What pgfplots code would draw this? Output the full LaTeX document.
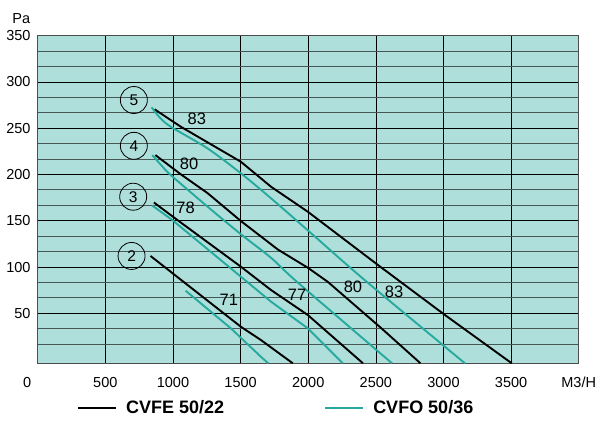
\documentclass[border=0pt]{standalone}
\usepackage{fontspec}
\setmainfont{Liberation Sans}
\usepackage{pgfplots}
\pgfplotsset{compat=1.18}
\definecolor{bgteal}{RGB}{174,223,218}
\definecolor{cteal}{RGB}{38,170,160}
\definecolor{gridminor}{RGB}{70,88,86}
\begin{document}
\fontsize{14}{16}\selectfont
\begin{tikzpicture}
\useasboundingbox (-37.7pt,-61.7pt) rectangle (559.3pt,363.3pt);
\begin{axis}[
  at={(0pt,0pt)}, anchor=south west,
  scale only axis, width=541pt, height=327.6pt,
  xmin=0, xmax=4000, ymin=-4, ymax=350,
  clip=false,
  axis background/.style={fill=bgteal},
  axis line style={draw=gray!60!black, line width=0.8pt},
  xtick={500,1000,...,4000},
  xticklabels={500,1000,1500,2000,2500,3000,3500,M3/H},
  extra x ticks={0}, extra x tick labels={0},
  extra x tick style={grid=none, xticklabel style={xshift=-10.5pt}},
  ytick={50,100,...,350},
  minor ytick={16.667,33.333,66.667,83.333,116.667,133.333,166.667,183.333,216.667,233.333,266.667,283.333,316.667,333.333},
  grid=both,
  major grid style={draw=black, line width=0.6pt},
  minor grid style={draw=gridminor, line width=1pt},
  tick style={draw=none},
  /pgf/number format/assume math mode=true,
  scaled ticks=false,
  xticklabel style={anchor=north, inner sep=0pt, yshift=-13.5pt, font=\fontsize{14.5}{16}\selectfont},
  yticklabel style={anchor=east, inner sep=0pt, xshift=-7pt, font=\fontsize{14.5}{16}\selectfont,
    /pgf/number format/.cd, 1000 sep={}},
  legend columns=2,
  legend cell align=left,
  legend image code/.code={\draw[#1, line width=2pt] (0pt,0pt) -- (38pt,0pt);},
  legend style={at={(0,0)}, anchor=west, xshift=39.3pt, yshift=-45pt,
    draw=none, fill=none, inner sep=0pt,
    font=\bfseries\fontsize{18}{21}\selectfont,
    nodes={inner sep=0pt},
    /tikz/every odd column/.append style={column sep=9pt},
    /tikz/every even column/.append style={column sep=100pt}},
]
% CVFE 50/22 (black)
\addplot[black, line width=1.9pt] coordinates {(864,270.5) (1057,251.7) (1502,213.8) (1725,186.8) (1997,159.8) (2516,102.2) (3010,48.3) (3505,-4)};
\addlegendentry{CVFE 50/22}
% CVFO 50/36 (teal)
\addplot[cteal, line width=1.9pt, smooth, tension=0.5] coordinates {(842,272.6) (900,262) (983,251.7) (1255,228.3) (1502,201.3) (1725,174.3) (2022,136.5) (2417,86) (3159,-4)};
\addlegendentry{CVFO 50/36}
\addplot[black, line width=1.9pt, forget plot] coordinates {(870,221) (1060,200) (1255,180) (1500,150) (1775,119) (2000,99) (2145,84) (2540,34) (2830,-4)};
\addplot[cteal, line width=1.9pt, smooth, tension=0.5, forget plot] coordinates {(847,221) (920,209) (983,199.5) (1250,166) (1502,135.5) (1725,110) (1925,83) (2620,-4)};
\addplot[black, line width=1.9pt, forget plot] coordinates {(859,169.8) (1033,150.8) (1502,100.4) (1725,75.2) (1997,48.2) (2405,-4)};
\addplot[cteal, line width=1.9pt, forget plot] coordinates {(847,166.5) (995,150.8) (1502,89.6) (1725,62.6) (1997,33.8) (2256,-4)};
\addplot[black, line width=1.9pt, forget plot] coordinates {(834,112) (1502,35.5) (1650,21.2) (1886,-4)};
\addplot[cteal, line width=1.9pt, forget plot] coordinates {(1094,74.4) (1428,33.8) (1650,3.1) (1705,-4)};
% curve labels
\begin{scope}[every node/.style={font=\fontsize{16.5}{18}\selectfont, inner sep=0pt}]
\node at (axis cs:1176,259.7) {83};
\node at (axis cs:1119,212) {80};
\node at (axis cs:1094,163.5) {78};
\node at (axis cs:1413,64.4) {71};
\node at (axis cs:1918,69.8) {77};
\node at (axis cs:2331,78.8) {80};
\node at (axis cs:2635,73.4) {83};
\end{scope}
\begin{scope}[every node/.style={draw=black, circle, line width=0.8pt, minimum size=27pt, inner sep=0pt, font=\fontsize{15.5}{17}\selectfont}]
\node at (axis cs:711,280.5) {5};
\node at (axis cs:711,231) {4};
\node at (axis cs:706,176) {3};
\node at (axis cs:694,112) {2};
\end{scope}
\node[inner sep=0pt, font=\fontsize{14.5}{16}\selectfont] at (rel axis cs:0,1) [xshift=-16.4pt, yshift=17pt] {Pa};
\end{axis}
\end{tikzpicture}
\end{document}
